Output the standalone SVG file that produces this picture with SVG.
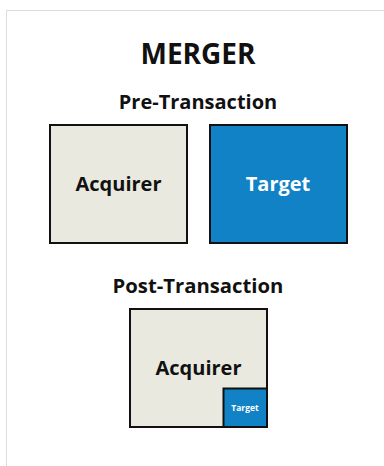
<svg xmlns="http://www.w3.org/2000/svg" width="384" height="466" viewBox="0 0 384 466">
<style>
text{font-family:"Open Sans","Liberation Sans",sans-serif;font-weight:bold;text-anchor:middle}
.acq{fill:#e9e9df;stroke:#111;stroke-width:2}
.tgt{fill:#1182c5;stroke:#111;stroke-width:2}
.dark{fill:#111}
.light{fill:#fff}
</style>
<rect x="6.5" y="10.5" width="400" height="470" fill="#fff" stroke="#dcdcdc" stroke-width="1"/>
<text class="dark" x="198" y="64" font-size="28">MERGER</text>
<text class="dark" x="198" y="108.5" font-size="20">Pre-Transaction</text>
<g id="acquirer-pre">
<rect class="acq" x="50" y="125" width="137" height="118"/>
<text class="dark" x="118.5" y="191" font-size="20">Acquirer</text>
</g>
<g id="target-pre">
<rect class="tgt" x="210" y="125" width="137" height="118"/>
<text class="light" x="278" y="191" font-size="20">Target</text>
</g>
<text class="dark" x="198" y="292.5" font-size="20.3">Post-Transaction</text>
<g id="acquirer-post">
<rect class="acq" x="130" y="309" width="137" height="118"/>
<text class="dark" x="198.5" y="374.5" font-size="20">Acquirer</text>
</g>
<g id="target-post">
<rect class="tgt" x="223.5" y="388.5" width="43.5" height="38.5"/>
<text class="light" x="245" y="411" font-size="8.5">Target</text>
</g>
<g id="connectors"></g>
</svg>
